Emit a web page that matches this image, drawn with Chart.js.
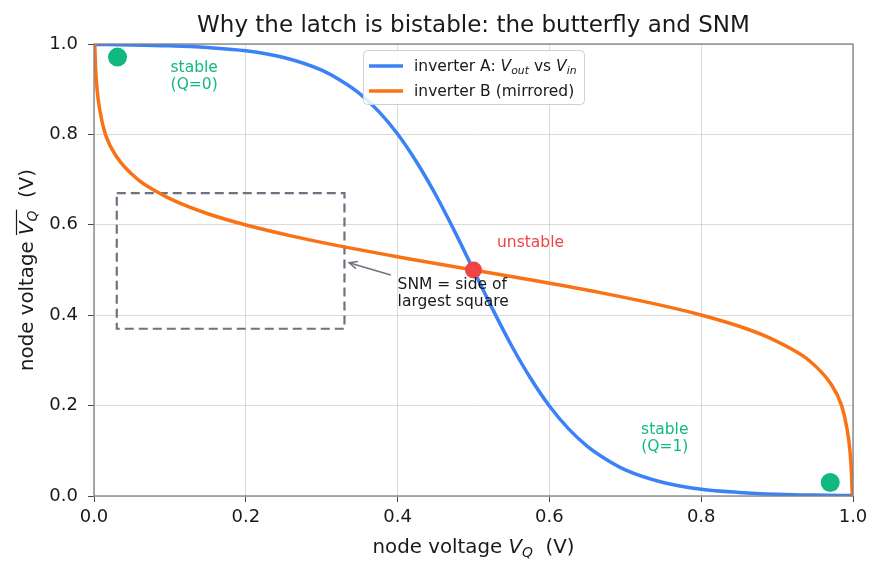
<!DOCTYPE html>
<html><head><meta charset="utf-8">
<script src="https://cdn.jsdelivr.net/npm/chart.js@4/dist/chart.umd.min.js"></script>
<style>html,body{margin:0;padding:0;background:#fff}#wrap{width:883px;height:574px}</style>
</head><body><div id="wrap"><canvas id="c" width="883" height="574"></canvas></div>
<script>
// inverter A transfer curve
const invAx = [0, 0.05, 0.1, 0.15, 0.2, 0.25, 0.3, 0.325, 0.35, 0.375, 0.4, 0.425, 0.45, 0.475, 0.5, 0.525, 0.55, 0.575, 0.6, 0.625, 0.65, 0.675, 0.7, 0.75, 0.8, 0.85, 0.9, 0.95, 1.0];
const invAy = [0.999, 0.998, 0.996, 0.992, 0.985, 0.970, 0.942, 0.919, 0.890, 0.851, 0.801, 0.739, 0.667, 0.586, 0.5, 0.414, 0.333, 0.261, 0.199, 0.149, 0.110, 0.081, 0.058, 0.030, 0.015, 0.008, 0.004, 0.002, 0.001];
// inverter B (mirrored) curve
const invBx = [0.001, 0.002, 0.004, 0.008, 0.015, 0.030, 0.058, 0.081, 0.110, 0.149, 0.199, 0.261, 0.333, 0.414, 0.5, 0.586, 0.667, 0.739, 0.801, 0.851, 0.890, 0.919, 0.942, 0.970, 0.985, 0.992, 0.996, 0.998, 0.999];
const invBy = [1.0, 0.95, 0.9, 0.85, 0.8, 0.75, 0.7, 0.675, 0.65, 0.625, 0.6, 0.575, 0.55, 0.525, 0.5, 0.475, 0.45, 0.425, 0.4, 0.375, 0.35, 0.325, 0.3, 0.25, 0.2, 0.15, 0.1, 0.05, 0.0];
// stable / unstable points
const stableX = [0.031, 0.97];
const stableY = [0.971, 0.03];
const unstableX = [0.5];
const unstableY = [0.5];
// SNM square corners
const boxX = [0.03, 0.33, 0.33, 0.03, 0.03];
const boxY = [0.67, 0.67, 0.37, 0.37, 0.67];
// annotation arrow (tail -> head)
const arrowX = [0.391, 0.336];
const arrowY = [0.489, 0.516];
const tickVals = [0, 0.2, 0.4, 0.6, 0.8, 1.0];

const FONT = "'DejaVu Sans', sans-serif";
const pts = (xs, ys) => xs.map((x, i) => ({x: x, y: ys[i]}));

function drawRich(ctx, parts, x, y, size, align) {
  const f = p => (p[1] === 'n' ? '' : 'italic ') + (p[1] === 's' ? size * 0.7 : size) + 'px ' + FONT;
  let w = 0;
  parts.forEach(p => { ctx.font = f(p); w += ctx.measureText(p[0]).width; });
  let cx = align === 'center' ? x - w / 2 : x;
  const start = cx;
  parts.forEach(p => {
    ctx.font = f(p);
    ctx.fillText(p[0], cx, p[1] === 's' ? y + size * 0.22 : y);
    cx += ctx.measureText(p[0]).width;
  });
  return {start: start, width: w};
}

const deco = {
  id: 'deco',
  afterDatasetsDraw(chart) {
    const ctx = chart.ctx, ca = chart.chartArea, xs = chart.scales.x, ys = chart.scales.y;
    const X = v => xs.getPixelForValue(v), Y = v => ys.getPixelForValue(v);
    ctx.save();
    // frame
    ctx.strokeStyle = '#808080'; ctx.lineWidth = 1.3;
    ctx.strokeRect(ca.left, ca.top, ca.right - ca.left, ca.bottom - ca.top);
    // arrow
    const x0 = X(arrowX[0]), y0 = Y(arrowY[0]), x1 = X(arrowX[1]), y1 = Y(arrowY[1]);
    ctx.strokeStyle = '#6b7280'; ctx.lineWidth = 1.4;
    ctx.beginPath(); ctx.moveTo(x0, y0); ctx.lineTo(x1, y1); ctx.stroke();
    const a = Math.atan2(y1 - y0, x1 - x0), L = 9;
    ctx.beginPath();
    ctx.moveTo(x1 - L * Math.cos(a - 0.42), y1 - L * Math.sin(a - 0.42));
    ctx.lineTo(x1, y1);
    ctx.lineTo(x1 - L * Math.cos(a + 0.42), y1 - L * Math.sin(a + 0.42));
    ctx.stroke();
    // annotation texts
    ctx.textBaseline = 'alphabetic';
    ctx.font = '15.5px ' + FONT;
    ctx.fillStyle = '#1a1a1a';
    ctx.textAlign = 'left';
    ctx.fillText('SNM = side of', X(0.4), Y(0.458));
    ctx.fillText('largest square', X(0.4), Y(0.420));
    ctx.fillStyle = '#ef4444';
    ctx.fillText('unstable', X(0.531), Y(0.551));
    ctx.fillStyle = '#10b981';
    ctx.textAlign = 'center';
    ctx.fillText('stable', X(0.132), Y(0.938));
    ctx.fillText('(Q=0)', X(0.132), Y(0.900));
    ctx.fillText('stable', X(0.752), Y(0.137));
    ctx.fillText('(Q=1)', X(0.752), Y(0.099));
    // title
    ctx.fillStyle = '#1a1a1a';
    ctx.font = '23px ' + FONT;
    ctx.fillText('Why the latch is bistable: the butterfly and SNM', (ca.left + ca.right) / 2, 32);
    // x axis title
    ctx.textAlign = 'left';
    drawRich(ctx, [['node voltage ', 'n'], ['V', 'i'], ['Q', 's'], ['  (V)', 'n']], (ca.left + ca.right) / 2, 553, 19.8, 'center');
    // y axis title (rotated) with overline
    ctx.save();
    ctx.translate(33, (ca.top + ca.bottom) / 2);
    ctx.rotate(-Math.PI / 2);
    ctx.font = '19.8px ' + FONT;
    const w1 = ctx.measureText('node voltage ').width;
    ctx.font = 'italic 19.8px ' + FONT; const wv = ctx.measureText('V').width;
    ctx.font = 'italic 13.86px ' + FONT; const wq = ctx.measureText('Q').width;
    const r = drawRich(ctx, [['node voltage ', 'n'], ['V', 'i'], ['Q', 's'], ['  (V)', 'n']], 0, 0, 19.8, 'center');
    const ox = r.start + w1;
    ctx.strokeStyle = '#1a1a1a'; ctx.lineWidth = 1.2;
    ctx.beginPath(); ctx.moveTo(ox, -16.5); ctx.lineTo(ox + wv + wq + 1, -16.5); ctx.stroke();
    ctx.restore();
    // legend
    const lx = 363, ly = 50, lw = 221, lh = 54;
    ctx.fillStyle = 'rgba(255,255,255,0.85)';
    ctx.strokeStyle = '#d0d0d0'; ctx.lineWidth = 1;
    ctx.beginPath(); ctx.roundRect(lx + 0.5, ly + 0.5, lw, lh, 4); ctx.fill(); ctx.stroke();
    ctx.lineWidth = 3.5;
    ctx.strokeStyle = '#3b82f6';
    ctx.beginPath(); ctx.moveTo(369, 66); ctx.lineTo(403, 66); ctx.stroke();
    ctx.strokeStyle = '#f97316';
    ctx.beginPath(); ctx.moveTo(369, 91); ctx.lineTo(403, 91); ctx.stroke();
    ctx.fillStyle = '#1a1a1a';
    drawRich(ctx, [['inverter A: ', 'n'], ['V', 'i'], ['out', 's'], [' vs ', 'n'], ['V', 'i'], ['in', 's']], 414, 71, 15.5, 'left');
    ctx.font = '15.5px ' + FONT;
    ctx.fillText('inverter B (mirrored)', 414, 96);
    ctx.restore();
  }
};

new Chart(document.getElementById('c'), {
  type: 'line',
  data: {
    datasets: [
      {label: 'inverter A', data: pts(invAx, invAy), borderColor: '#3b82f6', borderWidth: 3.5, pointRadius: 0, cubicInterpolationMode: 'monotone', fill: false, order: 4},
      {label: 'inverter B', data: pts(invBx, invBy), borderColor: '#f97316', borderWidth: 3.5, pointRadius: 0, cubicInterpolationMode: 'monotone', fill: false, order: 3},
      {label: 'SNM box', data: pts(boxX, boxY), borderColor: '#6b7280', borderWidth: 2.2, borderDash: [9, 5], pointRadius: 0, tension: 0, fill: false, order: 5},
      {label: 'stable', data: pts(stableX, stableY), showLine: false, pointRadius: 9.5, pointBackgroundColor: '#10b981', pointBorderWidth: 0, borderColor: '#10b981', order: 1},
      {label: 'unstable', data: pts(unstableX, unstableY), showLine: false, pointRadius: 8.5, pointBackgroundColor: '#ef4444', pointBorderWidth: 0, borderColor: '#ef4444', order: 0}
    ]
  },
  options: {
    responsive: false,
    animation: false,
    events: [],
    layout: {padding: {top: 44, right: 30, left: 0, bottom: 0}},
    plugins: {legend: {display: false}, title: {display: false}, tooltip: {enabled: false}},
    scales: {
      x: {
        type: 'linear', min: 0, max: 1,
        afterBuildTicks: s => { s.ticks = tickVals.map(v => ({value: v})); },
        afterFit: s => { s.height = 78; },
        grid: {color: '#d6d6d6', lineWidth: 0.9, tickLength: 6, tickColor: '#333'},
        border: {display: false},
        ticks: {color: '#1a1a1a', font: {family: FONT, size: 18}, padding: 5, maxRotation: 0, callback: v => v.toFixed(1)}
      },
      y: {
        type: 'linear', min: 0, max: 1,
        afterBuildTicks: s => { s.ticks = tickVals.map(v => ({value: v})); },
        afterFit: s => { s.width = 94; },
        grid: {color: '#d6d6d6', lineWidth: 0.9, tickLength: 6, tickColor: '#333'},
        border: {display: false},
        ticks: {color: '#1a1a1a', font: {family: FONT, size: 18}, padding: 10, callback: v => v.toFixed(1)}
      }
    }
  },
  plugins: [deco]
});
</script></body></html>
